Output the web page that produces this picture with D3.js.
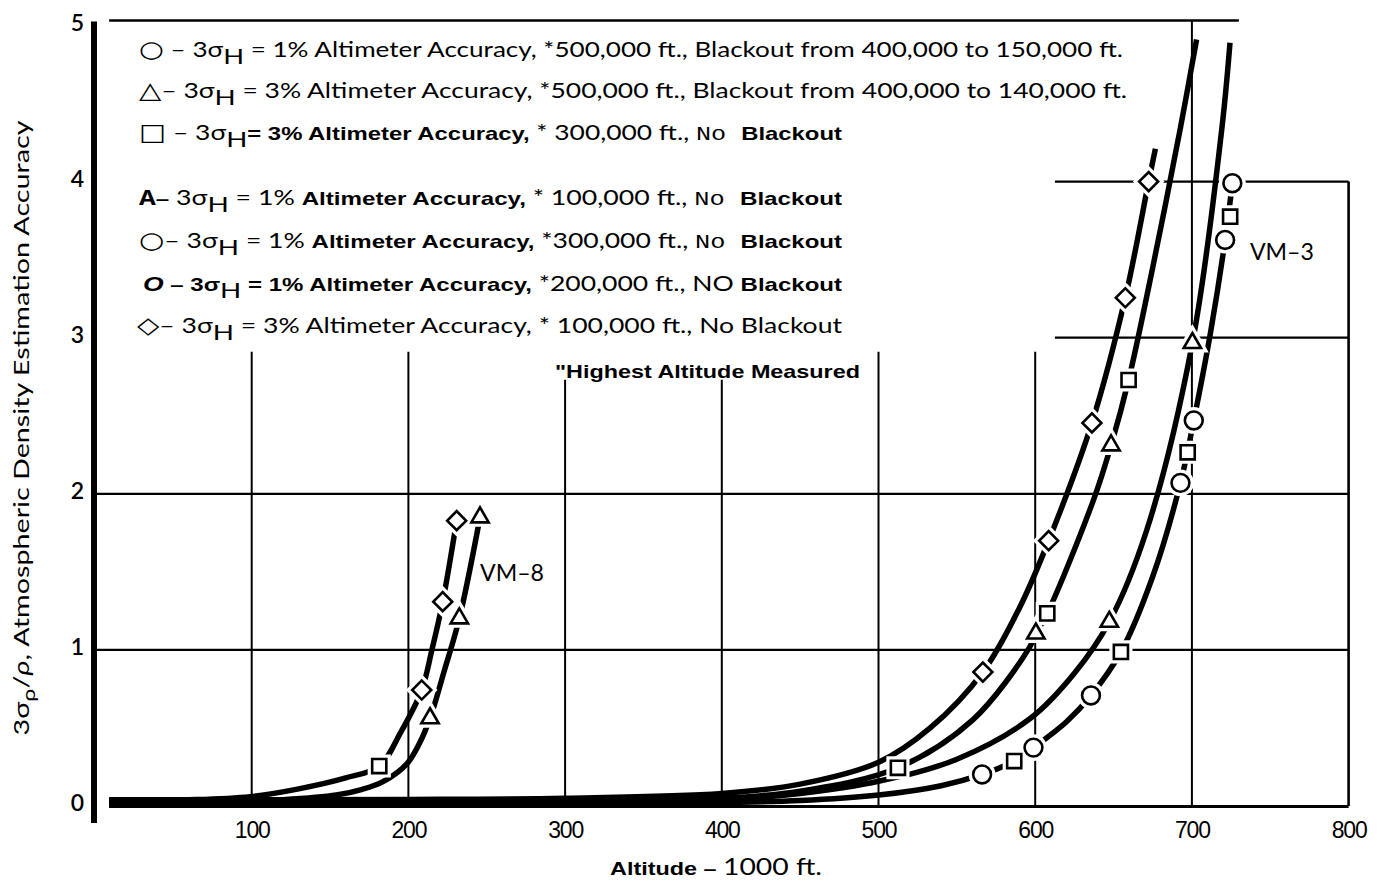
<!DOCTYPE html>
<html>
<head>
<meta charset="utf-8">
<script src="https://cdn.jsdelivr.net/npm/d3@7"></script>
<style>
  body { margin: 0; background: #fff; }
  svg { display: block; }
</style>
</head>
<body>
<svg id="chart" width="1382" height="881"></svg>
<script>
// ---- data: altitude (1000 ft) vs 3σρ/ρ ----
const xTicks = [100, 200, 300, 400, 500, 600, 700, 800];
const yTicks = [0, 1, 2, 3, 4, 5];

// VM-8 trajectory curves
const vm8Upper = [[9,0.035],[60,0.04],[99,0.06],[130,0.11],[160,0.18],[181.4,0.256],[195,0.47],[208.5,0.743],[215,1.0],[221.9,1.309],[230.8,1.828]];
const vm8Lower = [[9,0.02],[80,0.025],[120,0.04],[154,0.07],[170,0.105],[183.8,0.156],[199,0.27],[207,0.4],[213.8,0.562],[223,0.87],[232.5,1.202],[245.7,1.849]];

// VM-3 trajectory curves
const vm3Curve1 = [[9,0.04],[200,0.042],[300,0.05],[400,0.08],[450,0.14],[500,0.28],[533,0.5],[566.6,0.858],[590,1.27],[608.6,1.70],[636.2,2.454],[657.5,3.256],[672.4,4.0],[676.7,4.21]];
const vm3Curve2 = [[9,0.03],[300,0.035],[400,0.05],[450,0.095],[512.4,0.245],[560,0.55],[596,1.01],[600.4,1.105],[607.7,1.234],[637,1.955],[648.4,2.31],[659.6,2.729],[675,3.45],[692.6,4.34],[703,4.91]];
const vm3Curve3 = [[9,0.02],[300,0.025],[400,0.04],[450,0.08],[500.6,0.16],[550,0.3],[597.4,0.565],[625,0.85],[647.3,1.18],[671.2,1.768],[700.3,2.966],[719,4.33],[724.3,4.89]];
const vm3Curve4 = [[9,0.01],[350,0.015],[450,0.035],[500,0.07],[540,0.13],[566.1,0.202],[586.6,0.288],[598.9,0.374],[620,0.54],[635.6,0.708],[654.7,0.987],[675,1.47],[692.7,2.07],[701.2,2.47],[712,3.04],[721.2,3.626],[725.8,3.99]];

// plotted markers
const circlePts   = [[566.1,0.202],[598.9,0.374],[635.6,0.708],[692.7,2.07],[701.2,2.47],[721.2,3.626],[725.8,3.99]];
const squarePts   = [[181.4,0.256],[512.4,0.245],[586.6,0.288],[607.7,1.234],[654.7,0.987],[659.6,2.729],[697.3,2.266],[724.4,3.775]];
const trianglePts = [[213.8,0.562],[232.5,1.202],[245.7,1.849],[600.4,1.105],[647.3,1.18],[648.4,2.31],[700.3,2.966]];
const diamondPts  = [[208.5,0.743],[221.9,1.309],[230.8,1.828],[566.6,0.858],[608.6,1.70],[636.2,2.454],[657.5,3.256],[672.4,4.0]];

const curveLabels = [
  { text: "VM\u20138", at: [245.7, 1.44] },
  { text: "VM\u20133", at: [737, 3.5] }
];

// ---- drawing ----
const svg = d3.select("#chart");
const x = d3.scaleLinear().domain([0, 800]).range([95, 1348.6]);
const y = d3.scaleLinear().domain([0, 5]).range([806, 25.5]);

const GEO = "Lato, 'Open Sans', sans-serif";
const ARIAL = "'Liberation Sans', Arial, sans-serif";
const MONO = "'Liberation Mono', 'DejaVu Sans Mono', monospace";
const SYM = "'DejaVu Sans', sans-serif";

const frame = svg.append("g").attr("stroke", "#000").attr("fill", "none");

// horizontal grid lines (upper two start right of the legend)
[{ v: 1, from: 0 }, { v: 2, from: 0 }, { v: 3, from: 612.6 }, { v: 4, from: 612.6 }].forEach(d => {
  frame.append("line")
    .attr("x1", x(d.from)).attr("x2", x(800))
    .attr("y1", y(d.v)).attr("y2", y(d.v))
    .attr("stroke-width", 2.2);
});

// vertical grid lines (stop below the legend block)
[{ v: 100, top: 2.91 }, { v: 200, top: 2.91 }, { v: 300, top: 2.73 }, { v: 400, top: 2.73 },
 { v: 500, top: 2.91 }, { v: 600, top: 2.91 }, { v: 700, top: 5.03 }, { v: 800, top: 4.0 }].forEach(d => {
  frame.append("line")
    .attr("x1", x(d.v)).attr("x2", x(d.v))
    .attr("y1", y(d.top)).attr("y2", y(0))
    .attr("stroke-width", d.v === 800 ? 2.6 : 2);
});

// top border
frame.append("line")
  .attr("x1", x(9)).attr("x2", x(730))
  .attr("y1", y(5) - 5).attr("y2", y(5) - 5)
  .attr("stroke-width", 2.6);

// baseline
frame.append("line")
  .attr("x1", x(9)).attr("x2", x(800))
  .attr("y1", y(0) + 0.5).attr("y2", y(0) + 0.5)
  .attr("stroke-width", 3);

// heavy left axis bar
svg.append("rect")
  .attr("x", x(0) - 4).attr("width", 6)
  .attr("y", y(5) - 4).attr("height", y(0) - y(5) + 21)
  .attr("fill", "#000");

// curves
const line = d3.line().x(d => x(d[0])).y(d => y(d[1])).curve(d3.curveCatmullRom.alpha(0.5));
svg.append("g")
  .selectAll("path")
  .data([vm8Upper, vm8Lower, vm3Curve1, vm3Curve2, vm3Curve3, vm3Curve4])
  .join("path")
  .attr("d", line)
  .attr("fill", "none")
  .attr("stroke", "#000")
  .attr("stroke-width", 5.5)
  .attr("stroke-linecap", "butt");

// markers
const markerSets = [
  { pts: circlePts, sym: d3.symbolCircle, size: 250, rot: 0 },
  { pts: squarePts, sym: d3.symbolSquare, size: 200, rot: 0 },
  { pts: trianglePts, sym: d3.symbolTriangle, size: 130, rot: 0 },
  { pts: diamondPts, sym: d3.symbolSquare, size: 180, rot: 45 }
];
const halo = svg.append("g");
const marks = svg.append("g");
markerSets.forEach(s => {
  const path = d3.symbol().type(s.sym).size(s.size)();
  halo.selectAll(null).data(s.pts).join("path")
    .attr("d", path)
    .attr("transform", d => `translate(${x(d[0])},${y(d[1])}) rotate(${s.rot})`)
    .attr("fill", "#fff").attr("stroke", "#fff").attr("stroke-width", 9);
  marks.selectAll(null).data(s.pts).join("path")
    .attr("d", path)
    .attr("transform", d => `translate(${x(d[0])},${y(d[1])}) rotate(${s.rot})`)
    .attr("fill", "#fff").attr("stroke", "#000").attr("stroke-width", 2.6);
});

// axes (labels only)
const xAxis = svg.append("g")
  .attr("transform", `translate(0,${y(0)})`)
  .call(d3.axisBottom(x).tickValues(xTicks).tickSize(0).tickPadding(16));
xAxis.select(".domain").remove();
xAxis.selectAll("text")
  .attr("font-family", ARIAL).attr("font-size", 23).attr("fill", "#000")
  .attr("letter-spacing", -1.2);

const yAxis = svg.append("g")
  .attr("transform", `translate(${x(0)},0)`)
  .call(d3.axisLeft(y).tickValues(yTicks).tickFormat(d3.format("d")).tickSize(0).tickPadding(11));
yAxis.select(".domain").remove();
yAxis.selectAll("text")
  .attr("font-family", GEO).attr("font-size", 23).attr("font-weight", 600).attr("fill", "#000")
  .attr("dy", "0.2em");

// text helper: runs of [text, style]
const styles = {
  g:   { family: GEO, size: 21, weight: 400 },
  b:   { family: ARIAL, size: 19, weight: 700 },
  m:   { family: MONO, size: 20, weight: 400 },
  mb:  { family: MONO, size: 22, weight: 700 },
  bi:  { family: ARIAL, size: 21, weight: 700, italic: true },
  sym: { family: SYM, size: 23, weight: 400 },
  sub: { family: GEO, size: 22, weight: 400, shift: 7 },
  subr:{ family: GEO, size: 17, weight: 400, shift: 6 },
  it:  { family: GEO, size: 21, weight: 400, italic: true },
  big: { family: GEO, size: 23, weight: 400 }
};
function runText(sel, runs) {
  let shift = 0;
  runs.forEach(([t, k]) => {
    const st = styles[k];
    const want = st.shift || 0;
    const ts = sel.append("tspan")
      .text(t)
      .attr("font-family", st.family)
      .attr("font-size", st.size)
      .attr("font-weight", st.weight)
      .attr("font-style", st.italic ? "italic" : "normal");
    if (want !== shift) { ts.attr("dy", want - shift); shift = want; }
  });
}

// legend
const legendRuns = [
  [["\u25CB", "sym"], [" \u2013 3\u03C3", "g"], ["H", "sub"], [" = 1% Altimeter Accuracy, *500,000 ft., Blackout from 400,000 to 150,000 ft.", "g"]],
  [["\u25B3", "sym"], ["\u2013 3\u03C3", "g"], ["H", "sub"], [" = 3% Altimeter Accuracy, *500,000 ft., Blackout from 400,000 to 140,000 ft.", "g"]],
  [["\u25A1", "sym"], [" \u2013 3\u03C3", "g"], ["H", "sub"], ["= 3% Altimeter Accuracy, ", "b"], ["* 300,000 ft., ", "g"], ["No ", "m"], ["Blackout", "b"]],
  [["A", "mb"], ["\u2013 ", "b"], ["3\u03C3", "g"], ["H", "sub"], [" = 1% ", "g"], ["Altimeter Accuracy, ", "b"], ["* 100,000 ft., ", "g"], ["No ", "m"], ["Blackout", "b"]],
  [["\u25CB", "sym"], ["\u2013 3\u03C3", "g"], ["H", "sub"], [" = 1%  ", "g"], ["Altimeter Accuracy, ", "b"], ["*300,000 ft., ", "g"], ["No ", "m"], ["Blackout", "b"]],
  [["O", "bi"], [" \u2013 3\u03C3", "b"], ["H", "sub"], [" = 1% Altimeter Accuracy, ", "b"], ["*200,000 ft., ", "g"], ["NO ", "g"], ["Blackout", "b"]],
  [["\u25C7", "sym"], ["\u2013 3\u03C3", "g"], ["H", "sub"], [" = 3% Altimeter Accuracy, * 100,000 ft., No Blackout", "g"]]
];
const legendLayout = [
  { x: 139, base: 57, len: 984 },
  { x: 139, base: 98, len: 988 },
  { x: 139, base: 140, len: 703 },
  { x: 139, base: 205, len: 703 },
  { x: 139, base: 248, len: 703 },
  { x: 143, base: 291, len: 699 },
  { x: 137, base: 333, len: 705 }
];
legendRuns.forEach((runs, i) => {
  const L = legendLayout[i];
  const t = svg.append("text")
    .attr("x", L.x).attr("y", L.base)
    .attr("textLength", L.len).attr("lengthAdjust", "spacingAndGlyphs")
    .attr("fill", "#000");
  runText(t, runs);
});

// footnote under the legend
svg.append("text")
  .attr("x", 555).attr("y", 378)
  .attr("textLength", 305).attr("lengthAdjust", "spacingAndGlyphs")
  .attr("font-family", ARIAL).attr("font-weight", 700).attr("font-size", 19)
  .text("\"Highest Altitude Measured");

// curve group labels
svg.selectAll(null).data(curveLabels).join("text")
  .attr("x", d => x(d.at[0])).attr("y", d => y(d.at[1]))
  .attr("font-family", GEO).attr("font-size", 23)
  .attr("textLength", 64).attr("lengthAdjust", "spacingAndGlyphs")
  .text(d => d.text);

// x-axis title
const xt = svg.append("text")
  .attr("x", 610).attr("y", 875)
  .attr("textLength", 212).attr("lengthAdjust", "spacingAndGlyphs");
runText(xt, [["Altitude", "b"], ["  \u2013  ", "b"], ["1000 ft.", "big"]]);

// y-axis title
const yt = svg.append("text")
  .attr("transform", "translate(29,428) rotate(-90)")
  .attr("text-anchor", "middle")
  .attr("textLength", 615).attr("lengthAdjust", "spacingAndGlyphs");
runText(yt, [["3\u03C3", "g"], ["\u03C1", "subr"], ["/", "g"], ["\u03C1", "it"], [", Atmospheric Density Estimation Accuracy", "g"]]);
</script>
</body>
</html>
